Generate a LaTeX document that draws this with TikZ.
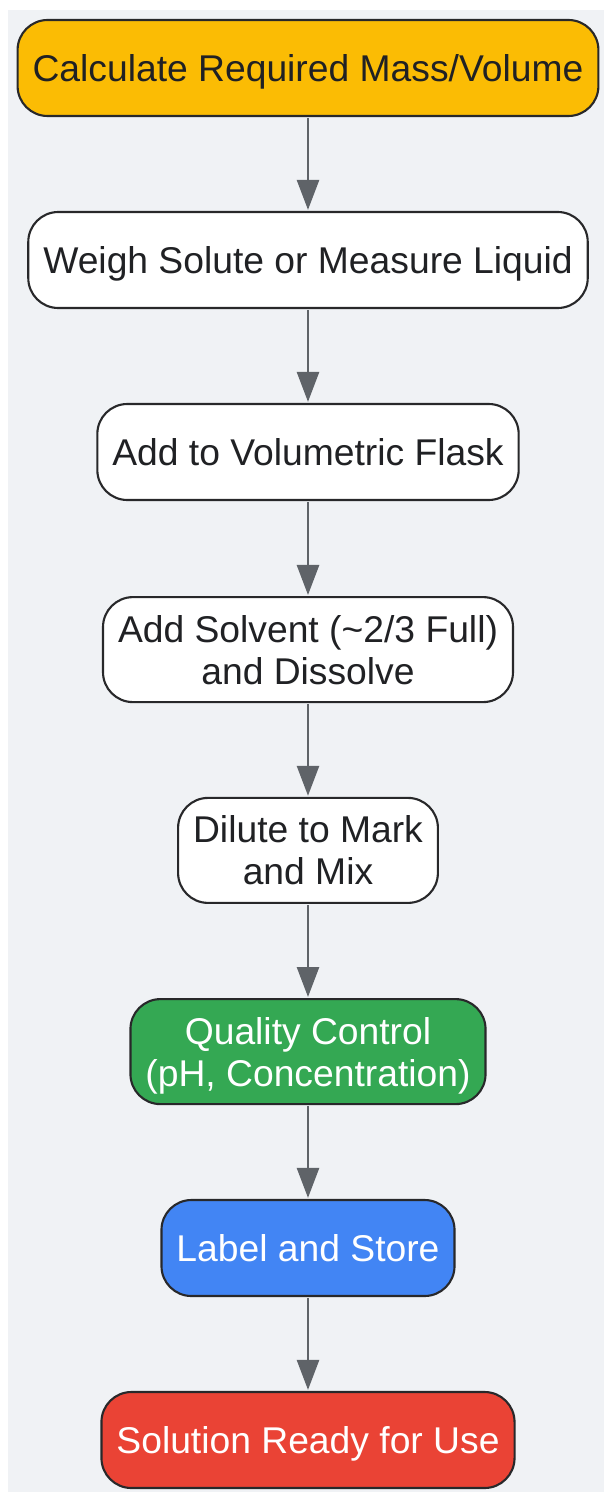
\documentclass[tikz,border=0pt]{standalone}
\usepackage{fontspec}
\setmainfont{Liberation Sans}
\usepackage{tikz}
\usetikzlibrary{arrows.meta}
\definecolor{bggray}{RGB}{240,242,245}
\definecolor{edgegray}{RGB}{40,40,42}
\definecolor{arrowgray}{RGB}{95,99,104}
\definecolor{txtdark}{RGB}{32,33,36}
\definecolor{gyellow}{RGB}{251,188,4}
\definecolor{ggreen}{RGB}{52,168,83}
\definecolor{gblue}{RGB}{66,133,244}
\definecolor{gred}{RGB}{234,67,53}

\begin{document}
\begin{tikzpicture}
    [
    stepbox/.style = {draw=edgegray,line width=1.5pt,rounded corners=0.75cm,fill=white,text=txtdark,align=center,
        minimum height=2.4cm,inner xsep=0.375cm,inner ysep=0.1cm,text depth=0pt,font=\fontsize{26.5pt}{30pt}\selectfont},
    tallbox/.style = {stepbox,minimum height=2.625cm},
    flow/.style = {arrowgray,line width=1.9pt,-{Triangle[length=0.75cm,width=0.55cm]},shorten <=0.75pt,shorten >=0.75pt}
    ]
\useasboundingbox (0,0) rectangle (15.1,-37.3);
\fill[bggray] (0.2,-0.25) rectangle (15.1,-37.3);

\node[stepbox,fill=gyellow] (calc) at (7.7,-1.7) {Calculate Required Mass/Volume};
\node[stepbox] (weigh) at (7.7,-6.5) {Weigh Solute or Measure Liquid};
\node[stepbox] (flask) at (7.7,-11.3) {Add to Volumetric Flask};
\node[tallbox] (solvent) at (7.7,-16.24) {Add Solvent (\textasciitilde2/3 Full)\\and Dissolve};
\node[tallbox] (dilute) at (7.7,-21.26) {Dilute to Mark\\and Mix};
\node[tallbox,fill=ggreen,text=white] (qc) at (7.7,-26.29) {Quality Control\\(pH, Concentration)};
\node[stepbox,fill=gblue,text=white] (store) at (7.7,-31.2) {Label and Store};
\node[stepbox,fill=gred,text=white] (ready) at (7.7,-36.0) {Solution Ready for Use};

\draw[flow] (calc) -- (weigh);
\draw[flow] (weigh) -- (flask);
\draw[flow] (flask) -- (solvent);
\draw[flow] (solvent) -- (dilute);
\draw[flow] (dilute) -- (qc);
\draw[flow] (qc) -- (store);
\draw[flow] (store) -- (ready);
\end{tikzpicture}
\end{document}
